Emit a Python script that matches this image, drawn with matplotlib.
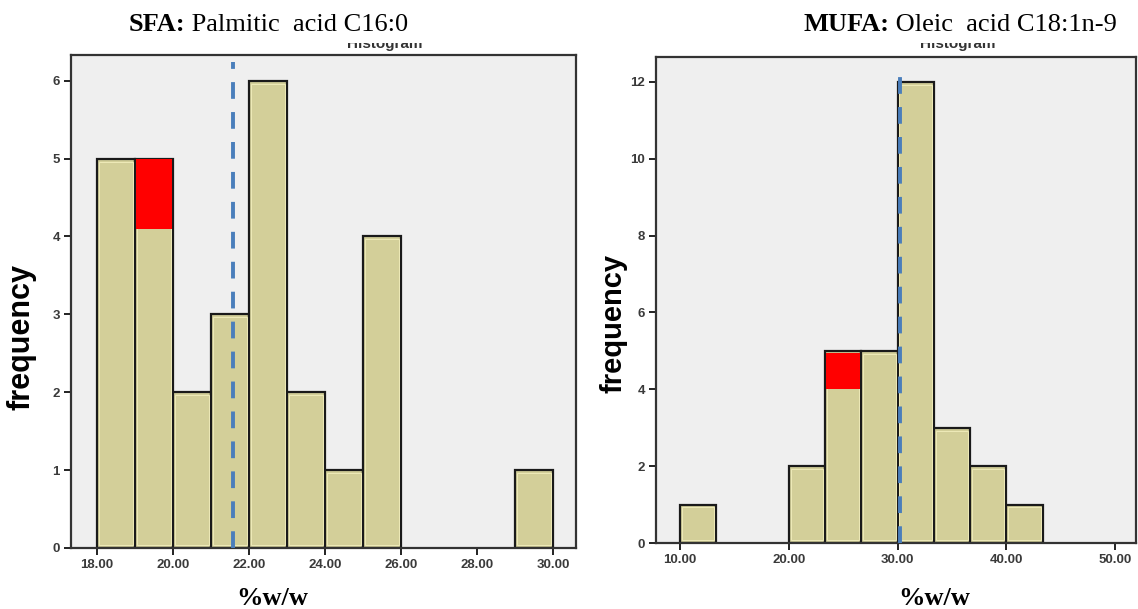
import numpy as np
import matplotlib
matplotlib.use("Agg")
import matplotlib.pyplot as plt
from matplotlib.patches import Rectangle

# ---- data ----------------------------------------------------------------
sfa_start, sfa_width = 18.0, 1.0
sfa_counts = [5, 5, 2, 3, 6, 2, 1, 4, 0, 0, 0, 1]
sfa_mean = 21.58
sfa_red_bin, sfa_red_low, sfa_red_high = 1, 4.1, 5.0
sfa_xticks = [18, 20, 22, 24, 26, 28, 30]
sfa_yticks = [0, 1, 2, 3, 4, 5, 6]

mufa_start, mufa_width = 10.0, 10.0 / 3.0
mufa_counts = [1, 0, 0, 2, 5, 5, 12, 3, 2, 1]
mufa_mean = 30.25
mufa_red_bin, mufa_red_low, mufa_red_high = 4, 4.0, 4.95
mufa_xticks = [10, 20, 30, 40, 50]
mufa_yticks = [0, 2, 4, 6, 8, 10, 12]

BAR = "#D3CF99"
HILITE = "#EEEAB8"
PANEL = "#EFEFEF"
MEAN = "#4A7EBB"

W, H, DPI = 1138, 609, 100
fig = plt.figure(figsize=(W / DPI, H / DPI), dpi=DPI)
fig.patch.set_facecolor("white")


def px_axes(x0, y0, x1, y1):
    return fig.add_axes([x0 / W, 1 - y1 / H, (x1 - x0) / W, (y1 - y0) / H])


def draw_hist(ax, start, width, counts, mean, red, xticks, yticks, xlim, ylim):
    counts = np.asarray(counts, dtype=float)
    lefts = start + width * np.arange(len(counts))
    keep = counts > 0
    ax.set_facecolor(PANEL)
    ax.bar(lefts[keep], counts[keep], width=width, align="edge",
           color=BAR, edgecolor="#1a1a1a", linewidth=1.6, zorder=2)
    # thin light inner rim of each bar
    dx = width * 0.05
    dy = (ylim[1] - ylim[0]) * 0.006
    ax.bar(lefts[keep] + dx, counts[keep] - 2 * dy, bottom=dy,
           width=width - 2 * dx, align="edge", color="none",
           edgecolor=HILITE, linewidth=0.7, zorder=2.5)
    rb, rlo, rhi = red
    ax.bar(lefts[rb] + dx * 0.6, rhi - rlo, bottom=rlo,
           width=width - 1.2 * dx, align="edge", color="#FF0000",
           edgecolor="none", zorder=3)
    ax.axvline(mean, ymin=0.0, ymax=0.985, color=MEAN, linewidth=2.8,
               linestyle=(0, (4.3, 3.4)), zorder=4)
    ax.set_xlim(*xlim)
    ax.set_ylim(*ylim)
    ax.set_xticks(xticks)
    ax.set_xticklabels([f"{t:.2f}" for t in xticks])
    ax.set_yticks(yticks)
    ax.set_yticklabels([str(t) for t in yticks])
    ax.tick_params(direction="out", length=5, width=1.4, color="#222222",
                   labelsize=9.5, labelcolor="#3a3a3a", pad=3)
    for lab in ax.get_xticklabels() + ax.get_yticklabels():
        lab.set_fontweight("bold")
        lab.set_family("Liberation Sans")
    for sp in ax.spines.values():
        sp.set_linewidth(1.6)
        sp.set_color("#333333")


ax1 = px_axes(71, 55, 576, 548)
draw_hist(ax1, sfa_start, sfa_width, sfa_counts, sfa_mean,
          (sfa_red_bin, sfa_red_low, sfa_red_high),
          sfa_xticks, sfa_yticks, (17.32, 30.6), (0, 6.33))

ax2 = px_axes(656, 57, 1136, 543)
draw_hist(ax2, mufa_start, mufa_width, mufa_counts, mufa_mean,
          (mufa_red_bin, mufa_red_low, mufa_red_high),
          mufa_xticks, mufa_yticks, (7.79, 51.93), (0, 12.65))

# partly hidden "Histogram" captions of the original panels
for xc in (385, 958):
    fig.text(xc / W, 1 - 48 / H, "Histogram", ha="center", va="baseline",
             fontsize=11, fontweight="bold", color="#333333",
             family="Liberation Sans", zorder=4)
fig.add_artist(Rectangle((0, 1 - 43 / H), 1, 43 / H, transform=fig.transFigure,
                         facecolor="white", edgecolor="none", zorder=5))

# panel headings: bold class name followed by the acid
serif = "Liberation Serif"
for xc, head, rest in ((268, "SFA:", " Palmitic  acid C16:0"),
                       (960, "MUFA:", " Oleic  acid C18:1n-9")):
    t = fig.text(0, 1 - 31 / H, head, fontsize=19, fontweight="bold",
                 family=serif, va="baseline", zorder=6)
    r = fig.text(0, 1 - 31 / H, rest, fontsize=19, family=serif,
                 va="baseline", zorder=6)
    fig.canvas.draw()
    rend = fig.canvas.get_renderer()
    wh = t.get_window_extent(rend).width
    wr = r.get_window_extent(rend).width
    x0 = xc - (wh + wr) / 2
    t.set_x(x0 / W)
    r.set_x((x0 + wh) / W)

# axis titles
for xc in (272, 934):
    fig.text(xc / W, 1 - 605 / H, "%w/w", ha="center", va="baseline",
             fontsize=19, fontweight="bold", family=serif)
for xc, yc, fs in ((22, 337, 22), (614, 323, 21)):
    fig.text(xc / W, 1 - yc / H, "frequency", ha="center", va="center",
             rotation=90, fontsize=fs, fontweight="bold",
             family="Liberation Sans")

fig.savefig("out.png", dpi=DPI)
